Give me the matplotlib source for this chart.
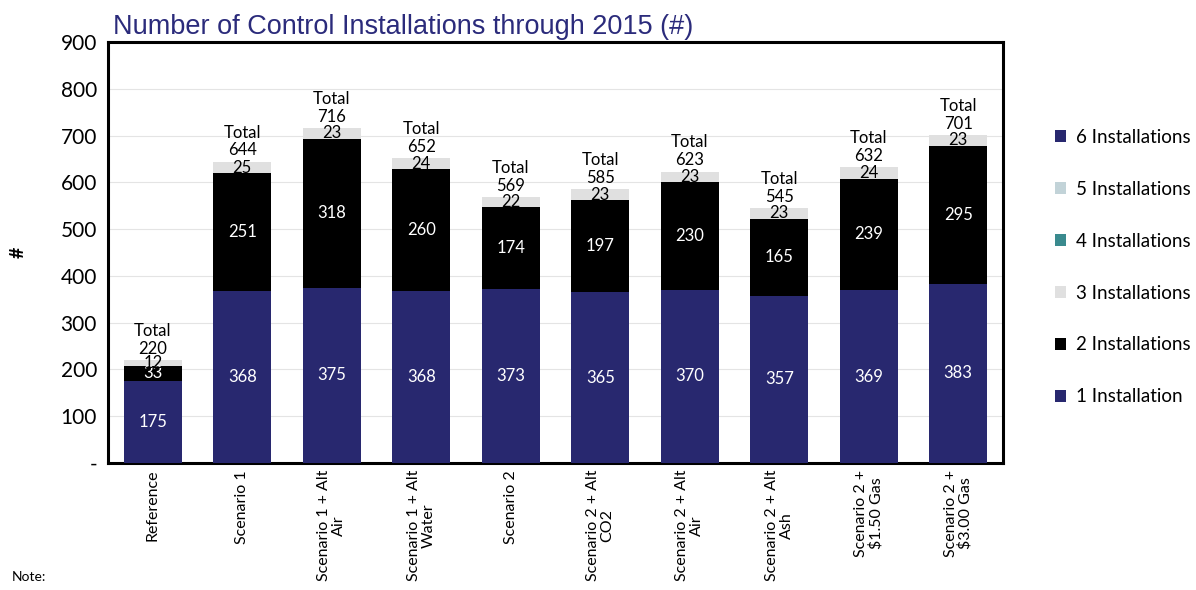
import numpy as np
import matplotlib
matplotlib.use("Agg")
import matplotlib.pyplot as plt

plt.rcParams["font.family"] = ["Lato", "DejaVu Sans"]

categories = ["Reference", "Scenario 1", "Scenario 1 + Alt\nAir", "Scenario 1 + Alt\nWater",
              "Scenario 2", "Scenario 2 + Alt\nCO2", "Scenario 2 + Alt\nAir",
              "Scenario 2 + Alt\nAsh", "Scenario 2 +\n$1.50 Gas", "Scenario 2 +\n$3.00 Gas"]
inst1 = [175, 368, 375, 368, 373, 365, 370, 357, 369, 383]
inst2 = [33, 251, 318, 260, 174, 197, 230, 165, 239, 295]
inst3 = [12, 25, 23, 24, 22, 23, 23, 23, 24, 23]
inst4 = [0] * 10
inst5 = [0] * 10
inst6 = [0] * 10
yticks = [0, 100, 200, 300, 400, 500, 600, 700, 800, 900]
ytick_labels = ["-", "100", "200", "300", "400", "500", "600", "700", "800", "900"]

navy = "#28286f"
fig = plt.figure(figsize=(11.96, 5.9), dpi=100)
ax = fig.add_axes([0.0903, 0.2153, 0.7483, 0.7135])

x = np.arange(len(categories))
w = 0.65
b1 = ax.bar(x, inst1, w, color=navy, label="1 Installation", zorder=3)
bottom = np.array(inst1)
b2 = ax.bar(x, inst2, w, bottom=bottom, color="black", label="2 Installations", zorder=3)
bottom = bottom + np.array(inst2)
b3 = ax.bar(x, inst3, w, bottom=bottom, color="#e0e0e0", label="3 Installations", zorder=3)
bottom = bottom + np.array(inst3)
b4 = ax.bar(x, inst4, w, bottom=bottom, color="#3a8a8e", label="4 Installations", zorder=3)
b5 = ax.bar(x, inst5, w, bottom=bottom, color="#c2d3d8", label="5 Installations", zorder=3)
b6 = ax.bar(x, inst6, w, bottom=bottom, color=navy, label="6 Installations", zorder=3)
totals = bottom

ax.bar_label(b1, labels=[str(v) for v in inst1], label_type="center", color="white", fontsize=12)
ax.bar_label(b2, labels=[str(v) for v in inst2], label_type="center", color="white", fontsize=12)
ax.bar_label(b3, labels=[str(v) for v in inst3], label_type="center", color="black", fontsize=12)
for xi, t in zip(x, totals):
    ax.text(xi, t + 7, "Total\n%d" % t, ha="center", va="bottom", fontsize=12,
            linespacing=1.15, zorder=4)

ax.set_xlim(-0.5, len(categories) - 0.5)
ax.set_ylim(0, 900)
ax.set_yticks(yticks)
ax.set_yticklabels(ytick_labels, fontsize=15)
ax.tick_params(axis="y", length=0, pad=8)
ax.tick_params(axis="x", length=0, pad=5)
ax.set_xticks(x)
ax.set_xticklabels(categories, rotation=90, fontsize=11.5, va="top", ha="center",
                   multialignment="center", linespacing=1.05)
ax.yaxis.grid(True, color="#e4e4e4", lw=0.8, zorder=0)
for s in ax.spines.values():
    s.set_linewidth(2.2)
    s.set_color("black")
ax.set_ylabel("#", fontsize=14, labelpad=24, fontweight="bold")

ax.set_title("Number of Control Installations through 2015 (#)", loc="left",
             fontsize=19.5, color="#2b2b7b", family="Liberation Sans", pad=6, x=0.006)

handles = [b6, b5, b4, b3, b2, b1]
fig.legend(handles=handles, labels=[h.get_label() for h in handles], loc="upper left",
           bbox_to_anchor=(0.868, 0.81), frameon=False, fontsize=13.5,
           handlelength=0.6, handleheight=0.6, handletextpad=0.5, labelspacing=1.86)

fig.text(0.01, 0.015, "Note:", fontsize=10)
fig.savefig("out.png", dpi=100)
